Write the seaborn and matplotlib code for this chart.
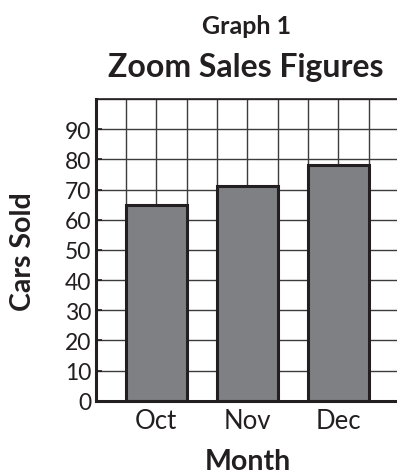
import matplotlib
matplotlib.use("Agg")
import matplotlib.pyplot as plt
import seaborn as sns
import pandas as pd
import numpy as np

# Monthly car sales
months = ["Oct", "Nov", "Dec"]
cars_sold = [65, 71, 78]
y_ticks = [0, 10, 20, 30, 40, 50, 60, 70, 80, 90]

sns.set_theme(style="white")
plt.rcParams["font.family"] = ["Lato", "DejaVu Sans"]

INK = "#231f20"
W, H = 397, 477
fig = plt.figure(figsize=(W / 100, H / 100), dpi=100)
ax = fig.add_axes([95.7 / W, 1 - 401.7 / H, (398.9 - 95.7) / W, (401.7 - 100) / H])

df = pd.DataFrame({"Month": months, "Cars Sold": cars_sold})
sns.barplot(data=df, x="Month", y="Cars Sold", ax=ax, color="#7f8084",
            saturation=1, width=2 / 3, edgecolor=INK, linewidth=2.2,
            zorder=3)

x_lo, x_hi = -2 / 3, 2 + 2 / 3
ax.set_xlim(x_lo, x_hi)
ax.set_ylim(0, 100)

# square background grid: thirds of a category horizontally, steps of 10 vertically
ax.vlines(np.arange(x_lo, x_hi + 1e-9, 1 / 3), 0, 100, color="#3c3c3c",
          linewidth=1.0, zorder=0)
ax.hlines(np.arange(10, 101, 10), x_lo, x_hi, color="#3c3c3c",
          linewidth=1.0, zorder=0)

ax.set_yticks(y_ticks)
ax.set_yticklabels([str(v) for v in y_ticks], fontsize=16.5, color=INK)
ax.tick_params(axis="x", which="both", length=0, labelsize=18.5, colors=INK, pad=5)
ax.tick_params(axis="y", which="major", direction="in", length=4, width=1.2,
               color=INK, left=True, pad=3)
ax.set_xlabel("")
ax.set_ylabel("")
for side in ["left", "bottom"]:
    ax.spines[side].set_linewidth(2.2)
    ax.spines[side].set_color(INK)
    ax.spines[side].set_zorder(5)
ax.spines["top"].set_linewidth(1.2)
ax.spines["top"].set_color(INK)
ax.spines["right"].set_visible(False)

fig.text(247 / W, 1 - 26 / H, "Graph 1", ha="center", va="center",
         fontsize=18, fontweight="bold", color=INK)
fig.text(246 / W, 1 - 67 / H, "Zoom Sales Figures", ha="center", va="center",
         fontsize=23, fontweight="bold", color=INK)
fig.text(23 / W, 1 - 252 / H, "Cars Sold", ha="center", va="center",
         rotation=90, fontsize=20.5, fontweight="bold", color=INK)
fig.text(247.5 / W, 1 - 470 / H, "Month", ha="center", va="baseline",
         fontsize=20.5, fontweight="bold", color=INK)

fig.savefig("out.png", dpi=100)
